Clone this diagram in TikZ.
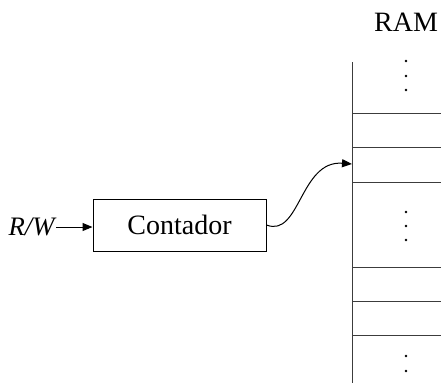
\documentclass[tikz,border=0pt]{standalone}
\usepackage{fontspec}
\setmainfont{Liberation Serif}
\usetikzlibrary{arrows.meta}

\tikzset{every picture/.style={line width=0.75pt}}
\tikzset{
  memline/.style={draw={rgb, 255:red, 60; green, 60; blue, 60}},
  arrowline/.style={-{Triangle[length=7.5pt,width=6pt]}},
  memdot/.style={fill=black},
}

\begin{document}
\begin{tikzpicture}[x=0.75pt,y=0.75pt,yscale=-1,xscale=1]
\useasboundingbox (0,0) rectangle (441,383);

% Text Node
\node (ram) at (406,22) [inner sep=0.75pt] {\fontsize{21}{25}\selectfont RAM};
% Text Node
\node (rw) at (56,227) [anchor=east][inner sep=0.75pt] {\fontsize{20}{24}\selectfont\itshape R/W};
% Counter box
\node (cnt) at (179.5,225) [draw,minimum width=129.75pt,minimum height=39pt,inner sep=0pt] {\fontsize{21}{25}\selectfont Contador};

%Straight Lines
\draw [memline] (352,62) -- (352,383) ;
\foreach \y in {113,147,182,267,301,335}
  \draw [memline] (352,\y) -- (441,\y) ;

%Dots
\foreach \y in {61,76,90,212,226,240,356,371}
  \fill [memdot] (406,\y) circle (1.4) ;

%Arrows
\coordinate (slot) at (352,164) ;
\draw [arrowline] (rw.east) -- (rw.east -| cnt.west) ;
\draw [arrowline] (cnt.east) .. controls (300,238) and (300,160) .. (slot) ;

\end{tikzpicture}
\end{document}
